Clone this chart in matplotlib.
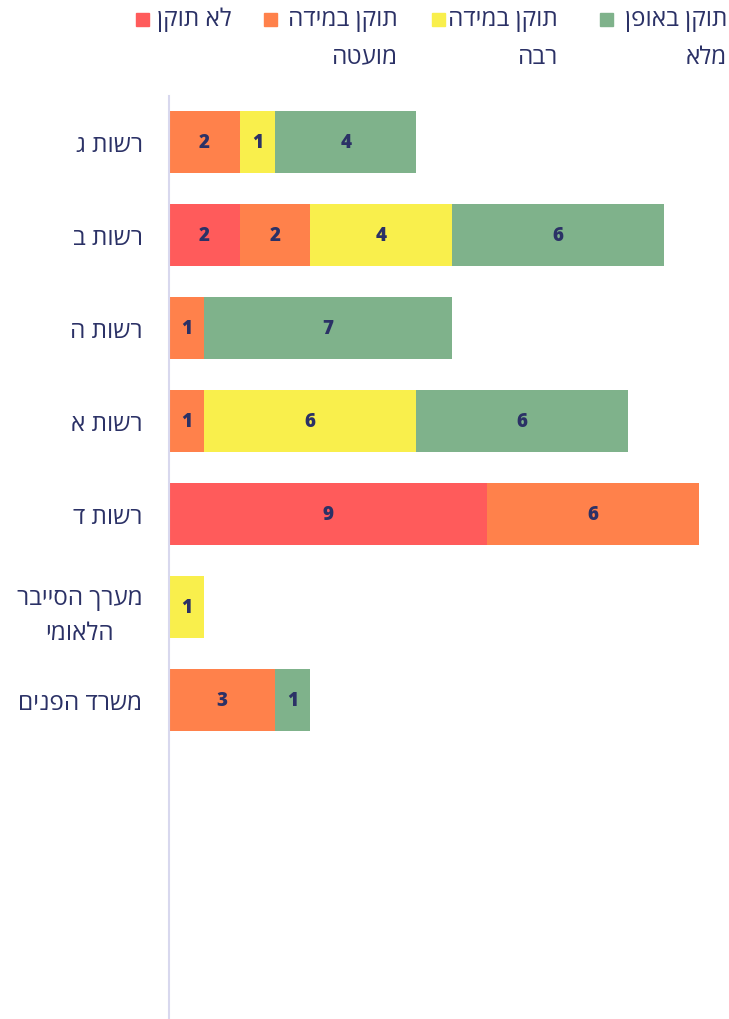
import matplotlib
matplotlib.use("Agg")
import matplotlib.pyplot as plt
from matplotlib.patches import Rectangle
import numpy as np

plt.rcParams['font.family'] = ['Open Sans', 'DejaVu Sans']

# categories top to bottom
categories = ['רשות ג', 'רשות ב', 'רשות ה', 'רשות א', 'רשות ד',
              'מערך הסייבר\nהלאומי', 'משרד הפנים']
not_fixed = [0, 2, 0, 0, 9, 0, 0]
fixed_little = [2, 2, 1, 1, 6, 0, 3]
fixed_much = [1, 4, 0, 6, 0, 1, 0]
fixed_full = [4, 6, 7, 6, 0, 0, 1]

series_names = ['לא תוקן', 'תוקן במידה\nמועטה', 'תוקן במידה\nרבה', 'תוקן באופן\nמלא']
colors = ['#FF5B5B', '#FF814B', '#F9EF4C', '#7FB28B']
text_color = '#2B3166'


def rtl(s):
    # matplotlib has no bidi support: flip each line for display
    return '\n'.join(line[::-1] for line in s.split('\n'))


fig = plt.figure(figsize=(7.29, 10.2), dpi=100)
W, H = 729, 1020
ax = fig.add_axes([169 / W, 0, (699 - 169) / W, 1 - 96.5 / H])

y = np.arange(len(categories))
left = np.zeros(len(categories))
for vals, c in zip([not_fixed, fixed_little, fixed_much, fixed_full], colors):
    vals = np.array(vals)
    bars = ax.barh(y, vals, left=left, height=0.667, color=c)
    for b, v in zip(bars, vals):
        if v > 0:
            ax.text(b.get_x() + b.get_width() / 2, b.get_y() + b.get_height() / 2,
                    str(v), ha='center', va='center', fontsize=13.5,
                    fontweight='heavy', color=text_color)
    left += vals

ax.set_xlim(0, 15)
ax.set_ylim(-0.5 + (H - 96.5) / 93, -0.5)
ax.set_xticks([])
ax.set_yticks(y)
ax.set_yticklabels([rtl(c) for c in categories], fontsize=17.5, color=text_color)
for t in ax.get_yticklabels():
    t.set_multialignment('center')
    t.set_linespacing(1.6)
ax.tick_params(axis='y', length=0, pad=19)
for s in ['top', 'right', 'bottom']:
    ax.spines[s].set_visible(False)
ax.spines['left'].set_color('#D8D8EE')
ax.spines['left'].set_linewidth(1.5)

# legend drawn by hand: square on the left, right-aligned text block
square_x = [136, 264, 432, 600]
text_right = [232, 398, 558, 727]
for name, c, sx, tr in zip(series_names, colors, square_x, text_right):
    fig.patches.append(Rectangle((sx / W, 1 - 27 / H), 13 / W, 13 / H,
                                 transform=fig.transFigure, color=c))
    fig.text(tr / W, 1 - 8 / H, rtl(name), ha='right', va='top', fontsize=17.5,
             color=text_color, multialignment='right', linespacing=1.75)

fig.savefig('out.png', dpi=100)
